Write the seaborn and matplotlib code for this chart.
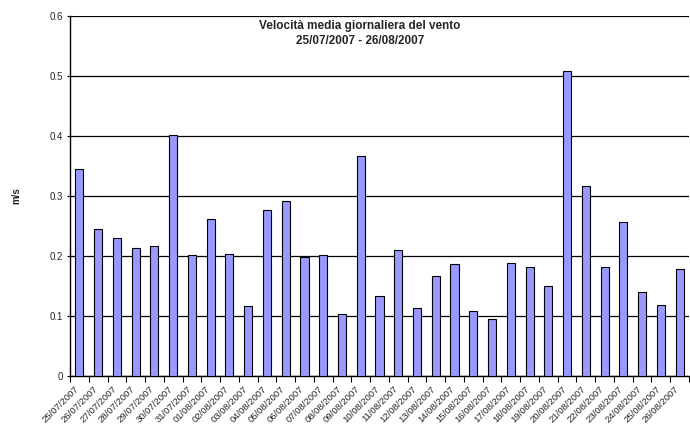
import matplotlib
matplotlib.use("Agg")
import matplotlib.pyplot as plt
import matplotlib.transforms as mtransforms
import seaborn as sns
import pandas as pd
import numpy as np

# Daily mean wind speed, 25/07/2007 - 26/08/2007
dates = [
    "25/07/2007", "26/07/2007", "27/07/2007", "28/07/2007", "29/07/2007",
    "30/07/2007", "31/07/2007", "01/08/2007", "02/08/2007", "03/08/2007",
    "04/08/2007", "05/08/2007", "06/08/2007", "07/08/2007", "08/08/2007",
    "09/08/2007", "10/08/2007", "11/08/2007", "12/08/2007", "13/08/2007",
    "14/08/2007", "15/08/2007", "16/08/2007", "17/08/2007", "18/08/2007",
    "19/08/2007", "20/08/2007", "21/08/2007", "22/08/2007", "23/08/2007",
    "24/08/2007", "25/08/2007", "26/08/2007",
]
speed = [
    0.345, 0.245, 0.230, 0.213, 0.217,
    0.401, 0.201, 0.262, 0.203, 0.117,
    0.276, 0.291, 0.198, 0.201, 0.103,
    0.367, 0.133, 0.210, 0.113, 0.167,
    0.186, 0.109, 0.095, 0.189, 0.181,
    0.150, 0.508, 0.316, 0.181, 0.257,
    0.140, 0.118, 0.179,
]
y_ticks = [0, 0.1, 0.2, 0.3, 0.4, 0.5, 0.6]
y_tick_labels = ["0", "0.1", "0.2", "0.3", "0.4", "0.5", "0.6"]
title_lines = ["Velocità media giornaliera del vento", "25/07/2007 - 26/08/2007"]
y_label = "m/s"

sns.set_style("white")
plt.rcParams["font.family"] = ["Liberation Sans", "DejaVu Sans"]

df = pd.DataFrame({"data": dates, "velocita": speed})

fig = plt.figure(figsize=(6.9, 4.3), dpi=100)
ax = fig.add_axes([70 / 690, 54 / 430, 619 / 690, 360 / 430])

sns.barplot(data=df, x="data", y="velocita", order=dates, color="#9999FF",
            saturation=1, width=0.43, edgecolor="#000000", linewidth=0.8,
            ax=ax, zorder=3)

ax.set_ylim(0, 0.6)
ax.set_xlim(-0.5, len(dates) - 0.5)
ax.set_yticks(y_ticks)
ax.set_yticklabels(y_tick_labels, fontsize=7)
ax.yaxis.grid(True, color="#000000", linewidth=0.9, zorder=0)
ax.set_axisbelow(True)

# category labels at bar centres, tick marks at category boundaries
ax.set_xticks(np.arange(len(dates)))
ax.set_xticklabels(dates, rotation=45, ha="right", rotation_mode="anchor",
                   fontsize=6.8)
ax.tick_params(axis="x", which="major", length=0, pad=6)
shift = mtransforms.ScaledTranslation(-5 / 100, 0, fig.dpi_scale_trans)
for lbl in ax.get_xticklabels():
    lbl.set_transform(lbl.get_transform() + shift)
ax.set_xticks(np.arange(len(dates) + 1) - 0.5, minor=True)
ax.tick_params(axis="x", which="minor", length=4, width=0.8, color="#000000",
               direction="out", bottom=True)
ax.tick_params(axis="y", length=4, width=0.8, color="#000000",
               direction="inout", left=True, pad=3)

for side in ["top", "right"]:
    ax.spines[side].set_visible(False)
for side in ["left", "bottom"]:
    ax.spines[side].set_color("#000000")
    ax.spines[side].set_linewidth(1.0)

ax.set_xlabel("")
ax.set_ylabel(y_label, fontsize=7, fontweight="bold", labelpad=20)

fig.text(360 / 690, 1 - 26 / 430, title_lines[0], ha="center", va="center",
         fontsize=8.5, fontweight="bold")
fig.text(360 / 690, 1 - 41 / 430, title_lines[1], ha="center", va="center",
         fontsize=8.5, fontweight="bold")

fig.savefig("out.png", dpi=100)
